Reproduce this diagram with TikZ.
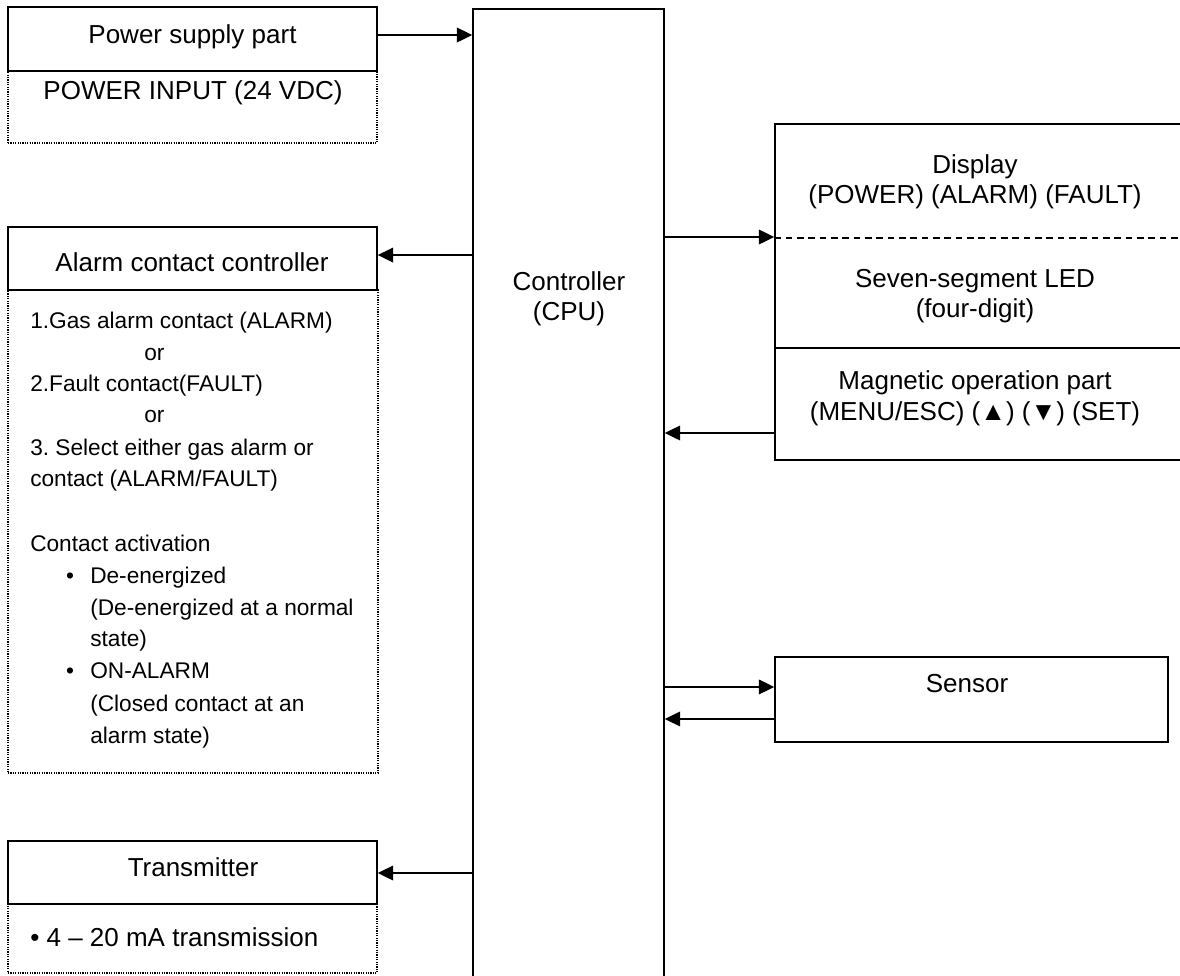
\documentclass[tikz,border=0pt]{standalone}
\usepackage{fontspec}
\setmainfont{Liberation Sans}
\usetikzlibrary{arrows.meta}
\frenchspacing
\begin{document}
\begin{tikzpicture}[x=0.75pt,y=-0.75pt,
  sz/.style 2 args={minimum width={#1*0.75pt},minimum height={#2*0.75pt}},
  box/.style={draw,line width=1.15pt,inner sep=0pt,rectangle},
  dotbox/.style={draw,line width=0.9pt,dash pattern=on 0.9pt off 0.9pt,inner sep=0pt,rectangle},
  dsh/.style={line width=0.9pt,dash pattern=on 5pt off 3.5pt},
  arr/.style={line width=1.05pt,-{Triangle[length=11.5pt,width=11pt]}},
  lbl/.style={inner sep=0pt,anchor=base,font=\fontsize{19.5}{22.5}\selectfont},
  lblw/.style={inner sep=0pt,anchor=base west,font=\fontsize{19.5}{22.5}\selectfont},
  sm/.style={inner sep=0pt,anchor=base west,font=\fontsize{17}{24}\selectfont},
  smc/.style={inner sep=0pt,anchor=base,font=\fontsize{17}{24}\selectfont}]
\clip (0,0) rectangle (1180,975);
\fill[white] (0,0) rectangle (1180,975);

% dotted boxes
\node[dotbox,sz={369}{72}] (psd) at (192.5,107) {};
\node[dotbox,sz={370}{483}] (acd) at (193,531.5) {};
\node[dotbox,sz={369}{69}] (trd) at (192.5,938.5) {};

% solid boxes
\node[box,sz={369}{64}] (ps) at (192.5,39) {};
\node[box,sz={369}{63}] (ac) at (192.5,258.5) {};
\node[box,sz={369}{63}] (tr) at (192.5,872.5) {};
\node[box,sz={191}{991}] (ctrl) at (568.5,504.5) {};
\node[box,sz={425}{224}] (disp) at (987.5,236) {};
\node[box,sz={425}{112}] (mag) at (987.5,404) {};
\node[box,sz={393}{85}] (sensor) at (971.5,699.5) {};

\draw[dsh] ([yshift=-1.5pt]disp.west) -- ([yshift=-1.5pt]disp.east);

% connectors
\coordinate (p1) at ([yshift=3pt]ps.east);
\coordinate (a1) at ([yshift=2.6pt]ac.east);
\coordinate (t1) at ([yshift=-0.375pt]tr.east);
\coordinate (d1) at ([yshift=-0.75pt]disp.west);
\coordinate (m1) at ([yshift=-21.75pt]mag.west);
\coordinate (s1) at ([yshift=9.4pt]sensor.west);
\coordinate (s2) at ([yshift=-14.6pt]sensor.west);
\draw[arr] (p1) -- (p1 -| ctrl.west);
\draw[arr] (a1 -| ctrl.west) -- (a1);
\draw[arr] (t1 -| ctrl.west) -- (t1);
\draw[arr] (d1 -| ctrl.east) -- (d1);
\draw[arr] (m1) -- (m1 -| ctrl.east);
\draw[arr] (s1 -| ctrl.east) -- (s1);
\draw[arr] (s2) -- (s2 -| ctrl.east);

% labels
\node[lbl] (tps) at (192.5,43) {Power supply part};
\node[lbl] (tpi) at (193,99) {POWER INPUT (24 VDC)};
\node[lbl] (tac) at (192,271) {Alarm contact controller};
\node[lbl] (ttr) at (193,876) {Transmitter};
\node[lblw] (ttx) at (30,946) {\textbullet\ 4 – 20 mA transmission};
\node[lbl] (tc1) at (569,290) {Controller};
\node[lbl] (tc2) at (569,320) {(CPU)};
\node[lbl] (td1) at (975,173) {Display};
\node[lbl] (td2) at (975,203) {(POWER) (ALARM) (FAULT)};
\node[lbl] (td3) at (975,287) {Seven-segment LED};
\node[lbl] (td4) at (975,317) {(four-digit)};
\node[lbl] (tm1) at (975,389) {Magnetic operation part};
\node[lbl] (tm2) at (975,420) {(MENU/ESC) (▲) (▼) (SET)};
\node[lbl] (tse) at (967,692) {Sensor};

% alarm contact list
\node[sm] (l1) at (30,328) {1.Gas alarm contact (ALARM)};
\node[sm] (l2) at (144,360) {or};
\node[sm] (l3) at (30,391) {2.Fault contact(FAULT)};
\node[sm] (l4) at (144,422) {or};
\node[sm] (l5) at (30,455) {3. Select either gas alarm or};
\node[sm] (l6) at (30,486) {contact (ALARM/FAULT)};
\node[sm] (l7) at (30,551) {Contact activation};
\node[smc] (b1) at (70,583) {\textbullet};
\node[sm] (l8) at (90,583) {De-energized};
\node[sm] (l9) at (90,615) {(De-energized at a normal};
\node[sm] (l10) at (90,646) {state)};
\node[smc] (b2) at (70,678) {\textbullet};
\node[sm] (l11) at (90,678) {ON-ALARM};
\node[sm] (l12) at (90,711) {(Closed contact at an};
\node[sm] (l13) at (90,743) {alarm state)};
\end{tikzpicture}
\end{document}
